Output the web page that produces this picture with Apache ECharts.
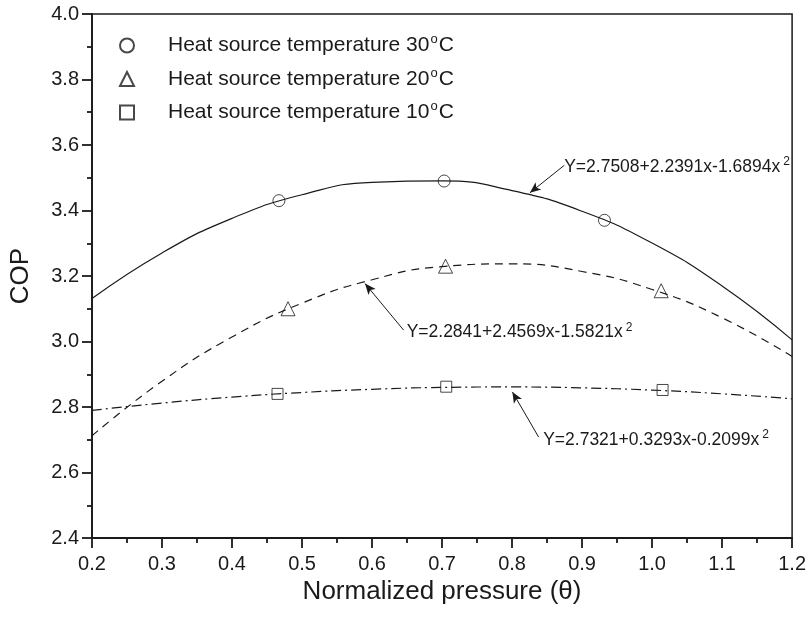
<!DOCTYPE html>
<html>
<head>
<meta charset="utf-8">
<script src="https://cdn.jsdelivr.net/npm/echarts@6/dist/echarts.min.js"></script>
<style>
html,body{margin:0;padding:0;background:#fff;}
#c{width:809px;height:617px;}
</style>
</head>
<body>
<div id="c"></div>
<script>
// ---- data ----
const xTicks = [0.2, 0.3, 0.4, 0.5, 0.6, 0.7, 0.8, 0.9, 1.0, 1.1, 1.2];
const fit30 = [3.131, 3.2705, 3.3761, 3.448, 3.4861, 3.4904, 3.4609, 3.3976, 3.3005, 3.1696, 3.005];
const fit20 = [2.7122, 2.8788, 3.0138, 3.1171, 3.1886, 3.2287, 3.2371, 3.2138, 3.1589, 3.0724, 2.9542];
const fit10 = [2.7896, 2.812, 2.8302, 2.8443, 2.8541, 2.8597, 2.8612, 2.8585, 2.8515, 2.8403, 2.825];
const x30 = [0.467, 0.703, 0.932];
const y30 = [3.43, 3.49, 3.37];
const x20 = [0.48, 0.705, 1.013];
const y20 = [3.10, 3.23, 3.155];
const x10 = [0.465, 0.706, 1.015];
const y10 = [2.84, 2.862, 2.852];
const seriesNames = ['Heat source temperature 30', 'Heat source temperature 20', 'Heat source temperature 10'];
const eq30 = 'Y=2.7508+2.2391x-1.6894x';
const eq20 = 'Y=2.2841+2.4569x-1.5821x';
const eq10 = 'Y=2.7321+0.3293x-0.2099x';

const FONT = 'Liberation Sans, Arial, sans-serif';
const INK = '#1a1a1a';

function pairs(xs, ys) { return xs.map((x, i) => [x, ys[i]]); }

const eqRich = {
  a: { fontFamily: FONT, fontSize: 17.5, color: INK, lineHeight: 22 },
  s: { fontFamily: FONT, fontSize: 12, color: INK, lineHeight: 12, verticalAlign: 'top', padding: [0, 0, 0, 3] }
};

function annot(textStr, textPos, tail, head) {
  return {
    markPoint: {
      silent: true,
      symbol: 'circle', symbolSize: 0,
      data: [{ coord: textPos, label: { show: true, position: 'right', distance: 1,
        formatter: '{a|' + textStr + '}{s|2}', rich: eqRich } }]
    },
    markLine: {
      silent: true,
      symbol: ['none', 'arrow'], symbolSize: [7, 11],
      label: { show: false },
      lineStyle: { type: 'solid', color: INK, width: 1 },
      data: [[{ coord: tail }, { coord: head }]]
    }
  };
}

const legendRich = {
  a: { fontFamily: FONT, fontSize: 21, color: INK, lineHeight: 25 },
  s: { fontFamily: FONT, fontSize: 13, color: INK, lineHeight: 13, verticalAlign: 'top', padding: [0, 1, 0, 1] }
};

const markerStyle = { color: 'rgba(0,0,0,0)', borderColor: INK, borderWidth: 1 };

const chart = echarts.init(document.getElementById('c'), null, { renderer: 'canvas' });
chart.setOption({
  animation: false,
  backgroundColor: '#fff',
  grid: { left: 81, right: 15, top: 14, bottom: 79, show: true, borderColor: INK, borderWidth: 1.5, backgroundColor: 'transparent' },
  legend: {
    orient: 'vertical', left: 114, top: 28, itemGap: 10.5,
    itemWidth: 14, itemHeight: 14,
    data: seriesNames,
    formatter: n => '{a|' + n + '}{s|o}{a|C}',
    textStyle: { rich: legendRich, padding: [0, 0, 0, 29] },
    selectedMode: false
  },
  xAxis: {
    type: 'value', min: 0.2, max: 1.2, interval: 0.1,
    name: 'Normalized pressure (\u03b8)', nameLocation: 'middle', nameGap: 40,
    nameTextStyle: { fontFamily: FONT, fontSize: 26, color: INK },
    axisLine: { lineStyle: { color: INK, width: 1.8 } },
    axisTick: { show: true, inside: false, length: 10, lineStyle: { color: INK, width: 1.8 } },
    minorTick: { show: true, splitNumber: 2, length: 5, lineStyle: { color: INK, width: 1.8 } },
    axisLabel: { fontFamily: FONT, fontSize: 20, color: INK, margin: 16, formatter: v => v.toFixed(1) },
    splitLine: { show: false }
  },
  yAxis: {
    type: 'value', min: 2.4, max: 4.0, interval: 0.2,
    name: 'COP', nameLocation: 'middle', nameGap: 58, nameRotate: 90,
    nameTextStyle: { fontFamily: FONT, fontSize: 26, color: INK },
    axisLine: { lineStyle: { color: INK, width: 1.8 } },
    axisTick: { show: true, inside: false, length: 10, lineStyle: { color: INK, width: 1.8 } },
    minorTick: { show: true, splitNumber: 2, length: 5, lineStyle: { color: INK, width: 1.8 } },
    axisLabel: { fontFamily: FONT, fontSize: 20, color: INK, margin: 13, formatter: v => v.toFixed(1) },
    splitLine: { show: false }
  },
  series: [
    Object.assign({
      type: 'line', name: 'fit30', smooth: true, showSymbol: false, silent: true,
      data: pairs(xTicks, fit30),
      lineStyle: { color: INK, width: 1.2, type: 'solid' }
    }, annot(eq30, [0.873, 3.533], [0.8746, 3.538], [0.8255, 3.454])),
    Object.assign({
      type: 'line', name: 'fit20', smooth: true, showSymbol: false, silent: true,
      data: pairs(xTicks, fit20),
      lineStyle: { color: INK, width: 1.2, type: [8, 6] }
    }, annot(eq20, [0.648, 3.028], [0.645, 3.035], [0.59, 3.177])),
    Object.assign({
      type: 'line', name: 'fit10', smooth: true, showSymbol: false, silent: true,
      data: pairs(xTicks, fit10),
      lineStyle: { color: INK, width: 1.2, type: [10, 4, 2, 4] }
    }, annot(eq10, [0.843, 2.699], [0.838, 2.708], [0.8005, 2.846])),
    { type: 'scatter', name: seriesNames[0], symbol: 'circle', symbolSize: 12, data: pairs(x30, y30), itemStyle: markerStyle },
    { type: 'scatter', name: seriesNames[1], symbol: 'triangle', symbolSize: 14, data: pairs(x20, y20), itemStyle: markerStyle },
    { type: 'scatter', name: seriesNames[2], symbol: 'rect', symbolSize: 11, data: pairs(x10, y10), itemStyle: markerStyle }
  ]
});
</script>
</body>
</html>
